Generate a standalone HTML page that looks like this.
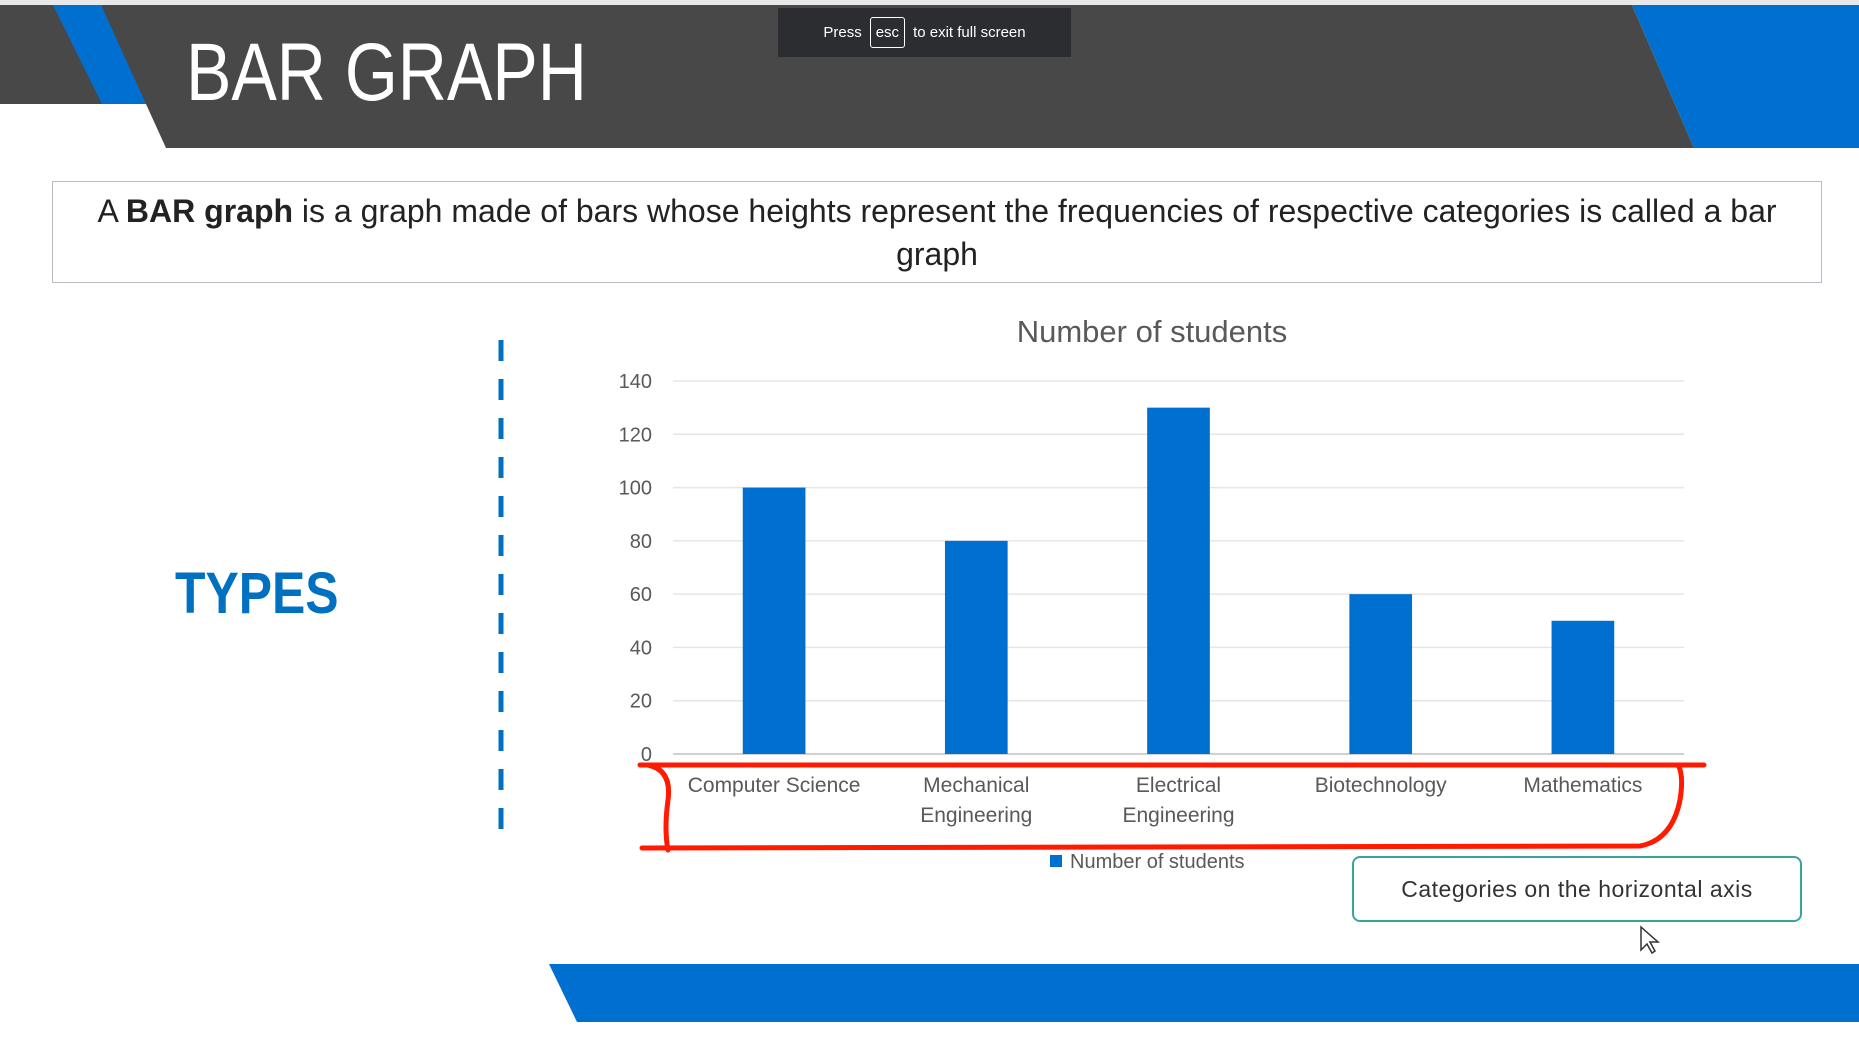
<!DOCTYPE html>
<html><head><meta charset="utf-8"><style>
body{margin:0;width:1859px;height:1043px;overflow:hidden;background:#fff;font-family:"Liberation Sans",sans-serif;position:relative}
.abs{position:absolute}
</style></head><body>
<svg class="abs" style="left:0;top:0" width="1859" height="1043">
<rect x="0" y="0" width="1859" height="5" fill="#e8e8e8"/>
<polygon points="0,5 60,5 105,104 0,104" fill="#484848"/>
<polygon points="53,5 101,5 150,104 102,104" fill="#0070d0"/>
<polygon points="101,5 1632,5 1694,148 166,148" fill="#484848"/>
<polygon points="1632,5 1859,5 1859,148 1694,148" fill="#0070d0"/>
<polygon points="549,964 1859,964 1859,1022 577,1022" fill="#0070d0"/>
</svg>
<div class="abs" style="left:186px;top:26px;font-size:82px;color:#fff;transform:scaleX(0.83);transform-origin:left top">BAR GRAPH</div>
<div class="abs" style="left:778px;top:8px;width:293px;height:49px;background:#2b2d31;color:#fff;font-size:15px;display:flex;align-items:center;justify-content:center;gap:8px">Press <span style="border:1px solid #fff;border-radius:3px;padding:6px 5px">esc</span> to exit full screen</div>
<div class="abs" style="left:52px;top:181px;width:1770px;height:102px;border:1px solid #b8bcc8;box-sizing:border-box;text-align:center;font-size:32px;line-height:43px;color:#222;padding-top:8px;white-space:nowrap">A <b>BAR graph</b> is a graph made of bars whose heights represent the frequencies of respective categories is called a bar<br>graph</div>
<div class="abs" style="left:175px;top:560px;font-size:58px;font-weight:bold;color:#0070c0;transform:scaleX(0.86);transform-origin:left top">TYPES</div>
<svg class="abs" id="chart" style="left:0;top:0" width="1859" height="1043"></svg>
<div class="abs" style="left:1352px;top:856px;width:450px;height:66px;border:2px solid #3aa39a;border-radius:8px;box-sizing:border-box;display:flex;align-items:center;justify-content:center;font-size:23px;color:#333;letter-spacing:0.5px">Categories on the horizontal axis</div>
<script>
const categories=[["Computer Science"],["Mechanical","Engineering"],["Electrical","Engineering"],["Biotechnology"],["Mathematics"]];
const values=[100,80,130,60,50];
const ticks=[0,20,40,60,80,100,120,140];
const NS="http://www.w3.org/2000/svg";
const svg=document.getElementById('chart');
const x0=673,x1=1684,yBase=754,yTop=381,maxV=140;
const y=v=>yBase-(v/maxV)*(yBase-yTop);
const band=(x1-x0)/categories.length;
const xc=i=>x0+band*(i+0.5);
function mk(t,a,txt){const e=document.createElementNS(NS,t);for(const k in a)e.setAttribute(k,a[k]);if(txt!==undefined)e.textContent=txt;svg.appendChild(e);return e;}
let d=mk('line',{x1:501,y1:340,x2:501,y2:833,stroke:'#0070c0','stroke-width':5,'stroke-dasharray':'21 18'});


let t=mk('text',{x:1152,y:342,'text-anchor':'middle','font-size':31,fill:'#595959','font-family':'Liberation Sans, sans-serif'},'Number of students');


ticks.forEach(v=>{
 let g=mk('line',{x1:x0,x2:x1,y1:y(v),y2:y(v),stroke:v===0?'#d0d0d0':'#e6e6e6','stroke-width':v===0?2:1.5});
 
 
 let l=mk('text',{x:652,y:y(v)+7,'text-anchor':'end','font-size':20,fill:'#595959','font-family':'Liberation Sans, sans-serif'},String(v));
 
 
});
const bw=band*0.31;
values.forEach((v,i)=>{
 let b=mk('rect',{x:xc(i)-bw/2,y:y(v),width:bw,height:yBase-y(v),fill:'#0070d0'});
 
 
 categories[i].forEach((s,j)=>{
  let c=mk('text',{x:xc(i),y:792+j*30,'text-anchor':'middle','font-size':21,fill:'#595959','font-family':'Liberation Sans, sans-serif'},s);
  
  
 });
});
let ls=mk('rect',{x:1050,y:855,width:12,height:12,fill:'#0070d0'});


let lt=mk('text',{x:1070,y:868,'font-size':20,fill:'#595959','font-family':'Liberation Sans, sans-serif'},'Number of students');


let r=mk('path',{d:'M640 765 L1704 765 M648 765 Q672 770 668 800 Q664 830 668 850 M642 848 L1640 846 Q1672 840 1680 800 Q1684 775 1678 765',fill:'none',stroke:'#ff1a00','stroke-width':5,'stroke-linecap':'round'});


let cur=mk('path',{d:'M1641 927 L1641 950 L1647 944 L1652 953 L1655 951 L1650 942 L1658 942 Z',fill:'#fff',stroke:'#333','stroke-width':1.5});


</script>
</body></html>
